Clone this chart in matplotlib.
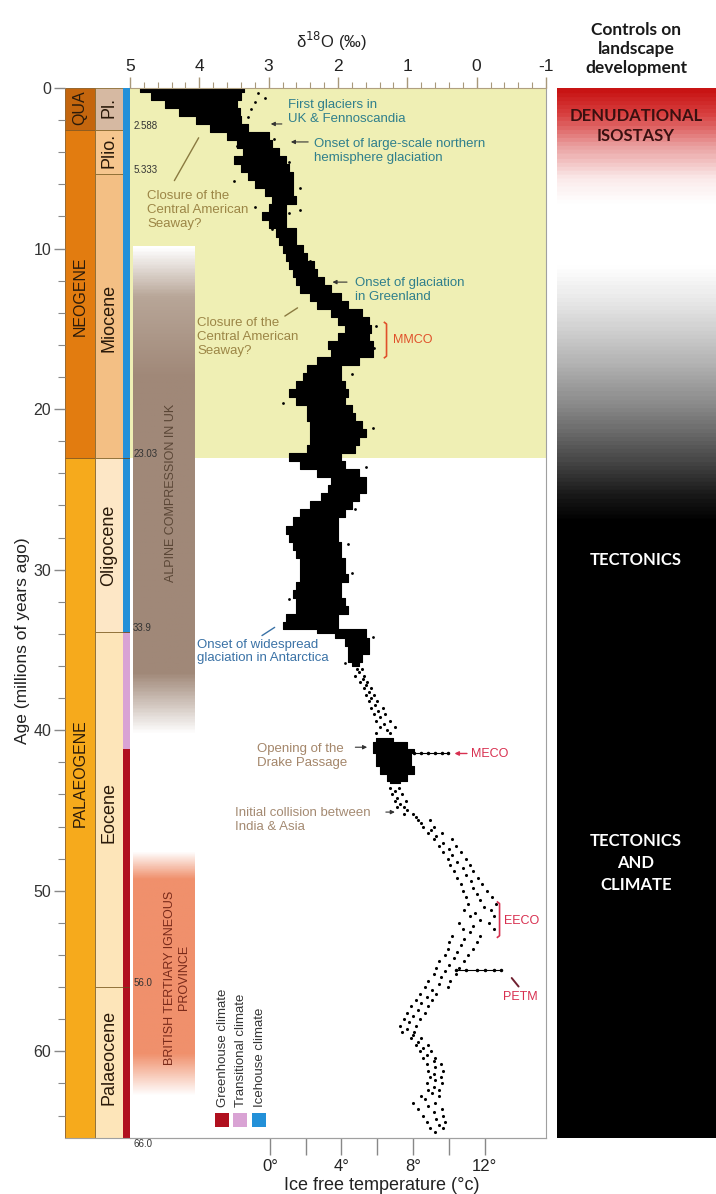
import numpy as np
import matplotlib
matplotlib.use('Agg')
import matplotlib.pyplot as plt
from matplotlib.colors import LinearSegmentedColormap
from matplotlib.patches import Rectangle
from matplotlib.ticker import MultipleLocator

plt.rcParams['font.family'] = ['Liberation Sans', 'DejaVu Sans']

W, H = 716, 1194
AGE_MAX = 65.4

# stratigraphy (Ma)
PERIODS = ['QUA', 'NEOGENE', 'PALAEOGENE']
PERIOD_BOUNDS = [0, 2.588, 23.03, 66.0]
PERIOD_COLORS = ['#c4660e', '#e27c10', '#f6aa1c']
PERIOD_LABEL_AGE = [1.2, 13.0, 42.7]

EPOCHS = ['Pl.', 'Plio.', 'Miocene', 'Oligocene', 'Eocene', 'Palaeocene']
EPOCH_BOUNDS = [0, 2.588, 5.333, 23.03, 33.9, 56.0, 66.0]
EPOCH_COLORS = ['#d6b9a2', '#f6c68e', '#f3bf84', '#fde7c6', '#fde5b9', '#fde5b9']
EPOCH_LABEL_AGE = [1.2, 3.9, 14.3, 28.5, 45.1, 60.4]
BOUNDARY_LABELS = ['2.588', '5.333', '23.03', '33.9', '56.0', '66.0']

CLIMATES = ['Greenhouse climate', 'Transitional climate', 'Icehouse climate']
CLIMATE_COLORS = ['#b0101e', '#d9a3d4', '#2390d8']
CLIMATE_BOUNDS = [(41.2, 66.0), (33.9, 41.2), (0, 33.9)]

# d18O record: dense envelope (age, heavy edge, light edge)
DENSE_AGE = [0.0, 0.5, 1.0, 1.5, 2.0, 2.5, 3.0, 3.5, 4.0, 4.5, 5.0, 5.5, 6.0,
             6.5, 7.0, 7.5, 8.0, 8.5, 9.0, 9.5, 10.0, 10.5, 11.0, 11.5, 12.0,
             12.5, 13.0, 13.5, 14.0, 14.5, 15.0, 15.5, 16.0, 16.5, 17.0, 17.5,
             18.0, 18.5, 19.0, 19.5, 20.0, 20.5, 21.0, 21.5, 22.0, 22.5, 23.0,
             23.5, 24.0, 24.5, 25.0, 25.5, 26.0, 26.5, 27.0, 27.5, 28.0, 28.5,
             29.0, 29.5, 30.0, 30.5, 31.0, 31.5, 32.0, 32.5, 33.0, 33.5, 33.9,
             34.0, 34.5, 35.0, 35.5, 36.0]
DENSE_HEAVY = [4.85, 4.7, 4.5, 4.3, 4.05, 3.85, 3.6, 3.45, 3.37, 3.5, 3.4, 3.3,
               3.2, 3.05, 2.95, 3.0, 3.1, 3.0, 2.9, 2.85, 2.8, 2.75, 2.7, 2.65,
               2.6, 2.55, 2.4, 2.3, 2.1, 2.0, 1.9, 2.0, 2.15, 2.1, 2.3, 2.45,
               2.5, 2.6, 2.7, 2.6, 2.45, 2.45, 2.4, 2.4, 2.4, 2.45, 2.7, 2.55,
               2.3, 2.1, 2.15, 2.25, 2.4, 2.55, 2.65, 2.75, 2.7, 2.65, 2.6, 2.55,
               2.55, 2.55, 2.6, 2.65, 2.6, 2.6, 2.75, 2.8, 2.3, 2.05, 1.9, 1.85,
               1.85, 1.8]
DENSE_LIGHT = [3.35, 3.4, 3.45, 3.42, 3.4, 3.3, 3.0, 2.95, 2.85, 2.75, 2.7,
               2.65, 2.65, 2.65, 2.6, 2.75, 2.75, 2.75, 2.6, 2.6, 2.5, 2.45,
               2.35, 2.3, 2.2, 2.1, 1.95, 1.85, 1.65, 1.55, 1.52, 1.55, 1.5,
               1.5, 1.7, 1.95, 1.95, 1.9, 1.85, 1.9, 1.8, 1.75, 1.65, 1.6, 1.7,
               1.75, 1.95, 1.9, 1.7, 1.6, 1.6, 1.7, 1.8, 1.9, 2.0, 2.0, 2.0,
               1.95, 1.95, 1.9, 1.9, 1.85, 1.95, 1.95, 1.9, 1.85, 2.0, 2.0, 1.6,
               1.6, 1.55, 1.55, 1.65, 1.7]

MECO_BLOB_AGE = [40.5, 41.0, 41.3, 41.6, 42.0, 42.5, 43.0, 43.3]
MECO_BLOB_HEAVY = [1.45, 1.5, 1.5, 1.45, 1.45, 1.4, 1.3, 1.25]
MECO_BLOB_LIGHT = [1.2, 1.0, 0.9, 0.95, 0.95, 0.9, 1.0, 1.1]

SPARSE_AGE = [36.2, 36.6, 37.0, 37.4, 37.8, 38.2, 38.6, 39.0, 39.4, 39.8, 40.2,
              43.6, 44.0, 44.4, 44.8, 45.2, 45.6, 46.0, 46.4, 46.8, 47.2, 47.6,
              48.0, 48.4, 48.8, 49.2, 49.6, 50.0, 50.4, 50.8, 51.2, 51.6, 52.0,
              52.4, 52.8, 53.2, 53.6, 54.0, 54.4, 54.8, 55.2, 55.6, 56.0, 56.4,
              56.8, 57.2, 57.6, 58.0, 58.4, 58.8, 59.2, 59.6, 60.0, 60.4, 60.8,
              61.2, 61.6, 62.0, 62.4, 62.8, 63.2, 63.6, 64.0, 64.4, 64.8]
SPARSE_HEAVY = [1.72, 1.75, 1.68, 1.62, 1.60, 1.55, 1.52, 1.48, 1.45, 1.40,
                1.45, 1.25, 1.22, 1.18, 1.15, 1.05, 0.85, 0.78, 0.70, 0.62,
                0.55, 0.48, 0.42, 0.38, 0.32, 0.28, 0.22, 0.20, 0.15, 0.12,
                0.18, 0.10, 0.25, 0.20, 0.35, 0.40, 0.42, 0.45, 0.55, 0.58,
                0.62, 0.70, 0.75, 0.82, 0.88, 0.95, 1.00, 1.05, 1.10, 1.08,
                0.95, 0.88, 0.82, 0.78, 0.72, 0.70, 0.68, 0.72, 0.70, 0.80,
                0.92, 0.85, 0.78, 0.72, 0.68]
SPARSE_LIGHT = [1.66, 1.62, 1.58, 1.52, 1.48, 1.44, 1.35, 1.32, 1.25, 1.18,
                1.25, 1.12, 1.08, 1.02, 1.05, 0.92, 0.68, 0.62, 0.50, 0.35,
                0.30, 0.22, 0.15, 0.10, 0.05, -0.02, -0.08, -0.15, -0.22,
                -0.28, -0.20, -0.25, -0.18, -0.25, -0.05, 0.00, 0.05, 0.12,
                0.18, 0.25, 0.30, 0.38, 0.42, 0.58, 0.65, 0.70, 0.75, 0.82,
                0.88, 0.90, 0.80, 0.70, 0.66, 0.60, 0.52, 0.48, 0.52, 0.50,
                0.55, 0.55, 0.60, 0.50, 0.48, 0.45, 0.48]
SPARSE_MID_AGE = [36.4, 36.8, 37.2, 37.6, 38.0, 38.4, 38.8, 39.2, 39.6, 40.0,
                  43.8, 44.2, 44.6, 45.0, 45.4, 45.8, 46.2, 46.6, 47.0, 47.4,
                  47.8, 48.2, 48.6, 49.0, 49.4, 49.8, 50.2, 50.6, 51.0, 51.4,
                  51.8, 52.2, 52.6, 53.0, 53.4, 53.8, 54.2, 54.6, 55.0, 55.4,
                  55.8, 56.2, 56.6, 57.0, 57.4, 57.8, 58.2, 58.6, 59.0, 59.4,
                  59.8, 60.2, 60.6, 61.0, 61.4, 61.8, 62.2, 62.6, 63.0, 63.4,
                  63.8, 64.2, 64.6, 65.0]
SPARSE_MID = [1.70, 1.64, 1.60, 1.55, 1.52, 1.47, 1.42, 1.40, 1.33, 1.30, 1.18,
              1.15, 1.10, 1.00, 0.88, 0.80, 0.66, 0.58, 0.48, 0.40, 0.35, 0.28,
              0.20, 0.15, 0.08, 0.05, 0.00, -0.05, -0.10, 0.02, -0.05, 0.05,
              0.10, 0.18, 0.22, 0.28, 0.32, 0.40, 0.45, 0.52, 0.55, 0.65, 0.72,
              0.80, 0.85, 0.92, 0.98, 1.00, 0.92, 0.85, 0.78, 0.72, 0.62, 0.60,
              0.62, 0.60, 0.62, 0.65, 0.75, 0.70, 0.62, 0.58, 0.55, 0.60]

FRINGE_AGE = [0.3, 0.6, 0.9, 1.3, 1.8, 2.2, 2.6, 3.2, 3.6, 4.6, 5.8, 6.2, 7.4,
              7.6, 7.8, 8.8, 10.8, 12.8, 14.8, 16.2, 17.8, 19.6, 21.2, 23.6,
              26.2, 28.4, 30.2, 31.8, 34.2, 35.8]
FRINGE_D18O = [3.15, 3.05, 3.2, 3.25, 3.3, 3.9, 3.75, 2.92, 3.45, 2.7, 3.5,
               2.55, 3.2, 2.55, 2.7, 2.95, 2.4, 2.0, 1.45, 1.48, 1.8, 2.8, 1.5,
               1.6, 1.75, 1.85, 1.8, 2.7, 1.5, 1.9]

MECO_SPIKE = [0.9, 0.8, 0.7, 0.6, 0.5, 0.42]
PETM_SPIKE = [0.3, 0.15, 0.0, -0.12, -0.25, -0.35]

# control panel gradient stops
CTRL_AGE = [0, 1.5, 3.5, 5.5, 7, 11, 13.5, 17, 20, 23, 25.5, 27, AGE_MAX]
CTRL_COLORS = ['#c81414', '#d84040', '#eaa0a0', '#fbeaea', '#ffffff', '#ffffff',
               '#e4e4e4', '#b4b4b4', '#848484', '#4a4a4a', '#151515', '#000000',
               '#000000']
ALPINE_AGE = [9.9, 13.0, 18.0, 36.5, 40.3]
ALPINE_COLORS = ['#ffffff', '#b8a698', '#a08878', '#a08878', '#ffffff']
BTIP_AGE = [47.6, 49.3, 60.2, 62.8]
BTIP_COLORS = ['#ffffff', '#f0906c', '#f0906c', '#ffffff']


def rect(x0, y0, x1, y1):
    return [x0 / W, 1 - y1 / H, (x1 - x0) / W, (y1 - y0) / H]


def ftext(x, y, s, **kw):
    fig.text(x / W, 1 - y / H, s, **kw)


def vgrad(ages, colors, n=400):
    a = np.array(ages, dtype=float)
    cmap = LinearSegmentedColormap.from_list('g', list(zip((a - a[0]) / (a[-1] - a[0]), colors)))
    return cmap(np.linspace(0, 1, n))[:, None, :]


fig = plt.figure(figsize=(7.16, 11.94), dpi=100)

# ---- main d18O panel
ax = fig.add_axes(rect(130, 88, 546, 1138))
ax.axhspan(0, 23.03, color='#efefb4', lw=0, zorder=0)

ax.imshow(vgrad(ALPINE_AGE, ALPINE_COLORS), extent=(4.957, 4.063, ALPINE_AGE[-1], ALPINE_AGE[0]),
          aspect='auto', origin='upper', zorder=1)
ax.imshow(vgrad(BTIP_AGE, BTIP_COLORS), extent=(4.957, 4.063, BTIP_AGE[-1], BTIP_AGE[0]),
          aspect='auto', origin='upper', zorder=1)
ax.text(4.41, 25.2, 'ALPINE COMPRESSION IN UK', rotation=90, ha='center', va='center',
        fontsize=9, color='#5a4636', zorder=3)
ax.text(4.32, 55.4, 'BRITISH TERTIARY IGNEOUS\nPROVINCE', rotation=90, ha='center',
        va='center', fontsize=9, color='#7a2a1a', linespacing=1.3, zorder=3)

ax.fill_betweenx(DENSE_AGE, DENSE_HEAVY, DENSE_LIGHT, step='mid', color='black', lw=0.8, zorder=2)
ax.fill_betweenx(MECO_BLOB_AGE, MECO_BLOB_HEAVY, MECO_BLOB_LIGHT, step='mid', color='black',
                 lw=0.8, zorder=2)
ax.scatter(SPARSE_HEAVY, SPARSE_AGE, s=5, color='black', zorder=2, lw=0)
ax.scatter(SPARSE_LIGHT, SPARSE_AGE, s=5, color='black', zorder=2, lw=0)
ax.scatter(SPARSE_MID, SPARSE_MID_AGE, s=5, color='black', zorder=2, lw=0)
ax.scatter(FRINGE_D18O, FRINGE_AGE, s=4, color='black', zorder=2, lw=0)
ax.plot(MECO_SPIKE, [41.45] * len(MECO_SPIKE), '.-', color='black', ms=3, lw=0.8, zorder=2)
ax.plot(PETM_SPIKE, [54.95] * len(PETM_SPIKE), '.-', color='black', ms=3, lw=0.8, zorder=2)

# boundary ages next to the columns
for lab, age in zip(BOUNDARY_LABELS, EPOCH_BOUNDS[1:]):
    ax.text(4.955, age - 0.25, lab, fontsize=7, color='#333333', ha='left', va='center', zorder=3)

arrow = dict(arrowstyle='-|>', color='#333333', lw=0.8, mutation_scale=6)
line = dict(arrowstyle='-', color='#8a7a40', lw=1.0)
TEAL = '#2f7f8c'
OLIVE = '#9c8646'
ax.text(2.72, 1.5, 'First glaciers in\nUK & Fennoscandia', fontsize=9.5, color=TEAL,
        va='center', ha='left', zorder=3)
ax.annotate('', xy=(3.01, 2.24), xytext=(2.77, 2.24), arrowprops=arrow)
ax.text(2.35, 3.9, 'Onset of large-scale northern\nhemisphere glaciation', fontsize=9.5,
        color=TEAL, va='center', ha='left', zorder=3)
ax.annotate('', xy=(2.72, 3.36), xytext=(2.39, 3.36), arrowprops=arrow)
ax.text(4.75, 7.6, 'Closure of the\nCentral American\nSeaway?', fontsize=9.5, color=OLIVE,
        va='center', ha='left', zorder=3)
ax.annotate('', xy=(3.99, 2.95), xytext=(4.38, 5.92), arrowprops=line)
ax.text(1.76, 12.6, 'Onset of glaciation\nin Greenland', fontsize=9.5, color=TEAL,
        va='center', ha='left', zorder=3)
ax.annotate('', xy=(2.12, 12.09), xytext=(1.83, 12.09), arrowprops=arrow)
ax.text(4.03, 15.5, 'Closure of the\nCentral American\nSeaway?', fontsize=9.5, color=OLIVE,
        va='center', ha='left', zorder=3)
ax.annotate('', xy=(2.55, 13.6), xytext=(2.8, 14.3), arrowprops=line)
ax.text(4.03, 35.1, 'Onset of widespread\nglaciation in Antarctica', fontsize=9.5,
        color='#3a72a6', va='center', ha='left', zorder=3)
ax.annotate('', xy=(2.88, 33.5), xytext=(3.13, 34.2),
            arrowprops=dict(arrowstyle='-', color='#3a72a6', lw=1.0))
ax.text(3.17, 41.6, 'Opening of the\nDrake Passage', fontsize=9.5, color='#a4866a',
        va='center', ha='left', zorder=3)
ax.annotate('', xy=(1.54, 41.06), xytext=(1.79, 41.06), arrowprops=arrow)
ax.text(3.49, 45.6, 'Initial collision between\nIndia & Asia', fontsize=9.5, color='#a48a72',
        va='center', ha='left', zorder=3)
ax.annotate('', xy=(1.14, 45.1), xytext=(1.35, 45.1), arrowprops=arrow)

RED = '#d83050'
# MMCO bracket
ax.plot([1.33, 1.30, 1.30, 1.33], [14.6, 14.7, 16.7, 16.8], color='#e0502a', lw=1.2)
ax.text(1.21, 15.7, 'MMCO', fontsize=9, color='#e0502a', va='center', ha='left')
# EECO bracket
ax.plot([-0.30, -0.33, -0.33, -0.30], [50.7, 50.8, 52.8, 52.9], color=RED, lw=1.2)
ax.text(-0.40, 51.9, 'EECO', fontsize=9, color=RED, va='center', ha='left')
ax.annotate('', xy=(0.36, 41.45), xytext=(0.1, 41.45),
            arrowprops=dict(arrowstyle='-|>', color=RED, lw=1.0, mutation_scale=6))
ax.text(0.08, 41.5, 'MECO', fontsize=9, color=RED, va='center', ha='left')
ax.annotate('', xy=(-0.48, 55.3), xytext=(-0.63, 56.1),
            arrowprops=dict(arrowstyle='-', color='#702030', lw=1.4))
ax.text(-0.38, 56.6, 'PETM', fontsize=9, color=RED, va='center', ha='left')

ax.set_xlim(5, -1)
ax.set_ylim(AGE_MAX, 0)
ax.xaxis.set_ticks_position('top')
ax.set_xticks([5, 4, 3, 2, 1, 0, -1], labels=['5', '4', '3', '2', '1', '0', '-1'])
ax.xaxis.set_minor_locator(MultipleLocator(0.2))
ax.tick_params(axis='x', which='major', length=8, width=1, color='#a8987a',
               labelsize=12.5, labelcolor='#222222', pad=2)
ax.tick_params(axis='x', which='minor', length=4, width=0.8, color='#a8987a')
ax.set_yticks([])
ax.spines['left'].set_visible(False)
ax.spines['top'].set_color('#b0a080')
ax.spines['right'].set_color('#a0a0a0')
ax.spines['bottom'].set_color('#a0a0a0')


def d2t(d):
    return 3.873 * (2.983 - d)


def t2d(t):
    return 2.983 - t / 3.873


sec = ax.secondary_xaxis('bottom', functions=(d2t, t2d))
sec.set_xticks([0, 2, 4, 6, 8, 10, 12], labels=['0°', '', '4°', '', '8°', '', '12°'])
sec.tick_params(length=12, width=1, color='#888888', labelsize=12, labelcolor='#222222', pad=3)
sec.spines['bottom'].set_color('#a0a0a0')

# ---- stratigraphic columns
axc = fig.add_axes(rect(65, 88, 130, 1138))
axc.set_xlim(0, 65)
axc.set_ylim(AGE_MAX, 0)
for i, name in enumerate(PERIODS):
    axc.axhspan(PERIOD_BOUNDS[i], PERIOD_BOUNDS[i + 1], xmin=0, xmax=30 / 65,
                facecolor=PERIOD_COLORS[i], edgecolor='#8a5a20', lw=0.6)
    axc.text(15, PERIOD_LABEL_AGE[i], name, rotation=90, ha='center', va='center',
             fontsize=11.5, color='#2a1a0a')
for i, name in enumerate(EPOCHS):
    axc.axhspan(EPOCH_BOUNDS[i], EPOCH_BOUNDS[i + 1], xmin=30 / 65, xmax=58 / 65,
                facecolor=EPOCH_COLORS[i], edgecolor='#8a6a30', lw=0.6)
    axc.text(44, EPOCH_LABEL_AGE[i], name, rotation=90, ha='center', va='center',
             fontsize=13, color='#2a1a0a')
for (a0, a1), c in zip(CLIMATE_BOUNDS, CLIMATE_COLORS):
    axc.axhspan(a0, a1, xmin=58 / 65, xmax=1, facecolor=c, lw=0)
for b in EPOCH_BOUNDS[3:6]:
    axc.plot([58, 65], [b, b], color='#6a4a1a', lw=0.6)
axc.set_yticks(range(0, 61, 10))
axc.yaxis.set_minor_locator(MultipleLocator(2))
axc.tick_params(axis='y', which='major', length=8, width=1, color='#888888',
                labelsize=11.5, labelcolor='#333333', pad=2)
axc.tick_params(axis='y', which='minor', length=5, width=0.8, color='#888888')
axc.set_xticks([])
for s in ['left', 'top', 'right']:
    axc.spines[s].set_visible(False)
axc.spines['bottom'].set_color('#a0a0a0')

ftext(23, 641, 'Age (millions of years ago)', rotation=90, ha='center', va='center',
      fontsize=12.5, color='#222222')
ftext(331, 41, 'δ$^{18}$O (‰)', ha='center', va='center', fontsize=12, color='#222222')
ftext(382, 1186, 'Ice free temperature (°c)', ha='center', va='center', fontsize=13,
      color='#222222')

# climate legend
for i, (name, c) in enumerate(zip(CLIMATES, CLIMATE_COLORS)):
    x = [222, 240, 259][i]
    fig.add_artist(Rectangle(((x - 7) / W, 1 - 1127 / H), 14 / W, 14 / H,
                             transform=fig.transFigure, facecolor=c, lw=0))
    ftext(x + 1, 1107, name, rotation=90, ha='center', va='bottom', fontsize=9.5,
          color='#333333')

# ---- controls on landscape development
axr = fig.add_axes(rect(557, 88, 716, 1138))
cmap = LinearSegmentedColormap.from_list(
    'ctrl', list(zip(np.array(CTRL_AGE) / AGE_MAX, CTRL_COLORS)))
axr.imshow(np.linspace(0, AGE_MAX, 800)[:, None], cmap=cmap, vmin=0, vmax=AGE_MAX,
           extent=(0, 1, AGE_MAX, 0), aspect='auto', origin='upper')
axr.set_xlim(0, 1)
axr.set_ylim(AGE_MAX, 0)
axr.axis('off')

bold = dict(family=['Lato', 'DejaVu Sans'], fontweight='bold', ha='center', va='center')
ftext(636, 49, 'Controls on\nlandscape\ndevelopment', fontsize=12.5, color='#1a1a1a',
      linespacing=1.25, **bold)
ftext(636, 126, 'DENUDATIONAL\nISOSTASY', fontsize=12, color='#3a1010', linespacing=1.3, **bold)
ftext(636, 560, 'TECTONICS', fontsize=12, color='white', **bold)
ftext(636, 863, 'TECTONICS\nAND\nCLIMATE', fontsize=12, color='white', linespacing=1.45, **bold)

fig.savefig('out.png', dpi=100, facecolor='white')
